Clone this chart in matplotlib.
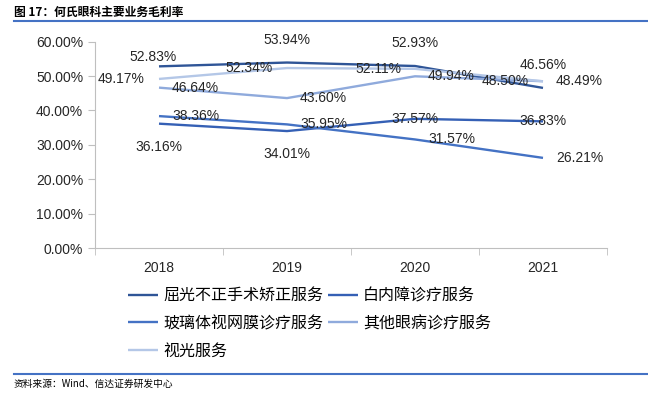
import matplotlib
matplotlib.use("Agg")
import matplotlib.pyplot as plt
from matplotlib.lines import Line2D

plt.rcParams['font.family'] = ['Liberation Sans', 'Noto Sans CJK SC', 'DejaVu Sans']

# 数据
years = ["2018", "2019", "2020", "2021"]
series_names = ["屈光不正手术矫正服务", "白内障诊疗服务", "玻璃体视网膜诊疗服务",
                "其他眼病诊疗服务", "视光服务"]
qg = [52.83, 53.94, 52.93, 46.56]
bnz = [36.16, 34.01, 37.57, 36.83]
blt = [38.36, 35.95, 31.57, 26.21]
qt = [46.64, 43.60, 49.94, 48.50]
sg = [49.17, 52.34, 52.11, 48.49]
yticks = [0, 10, 20, 30, 40, 50, 60]

values = [qg, bnz, blt, qt, sg]
colors = ["#2F5597", "#3560B5", "#4472C4", "#8FAADC", "#B4C7E7"]
# 数据标签位置: a=上, b=下, c=居中, l=左, r=右
label_pos = [
    ["a0", "a", "a", "a"],
    ["b", "b", "c", "c"],
    ["r", "r", "r", "r"],
    ["r", "r", "r", "l"],
    ["l", "l", "l", "r"],
]
offsets = {
    "a0": (-6, 9, "center"),
    "a": (0, 23, "center"),
    "b": (0, -23, "center"),
    "c": (0, 0, "center"),
    "l": (-14, 0, "right"),
    "r": (13, 0, "left"),
}

fig = plt.figure(figsize=(6.48, 3.95), dpi=100)
ax = fig.add_axes([95 / 648, 1 - 248 / 395, 512 / 648, 206.3 / 395])

x = list(range(len(years)))
handles = []
for name, vals, col, pos in zip(series_names, values, colors, label_pos):
    h, = ax.plot(x, vals, color=col, lw=1.7, label=name, solid_capstyle="butt")
    handles.append(h)
    for xi, v, p in zip(x, vals, pos):
        dx, dy, ha = offsets[p]
        ax.annotate(f"{v:.2f}%", (xi, v), xytext=(dx, dy), textcoords="offset pixels",
                    ha=ha, va="center", fontsize=10, color="#262626")

ax.set_xlim(-0.5, 3.5)
ax.set_ylim(0, 60)
ax.set_yticks(yticks)
ax.set_yticklabels([f"{t:.2f}%" for t in yticks])
ax.set_xticks(x)
ax.set_xticklabels(years)
ax.set_xticks([-0.5, 0.5, 1.5, 2.5, 3.5], minor=True)
ax.tick_params(axis="x", which="major", length=0, pad=9, labelsize=10, colors="#262626")
ax.tick_params(axis="x", which="minor", length=5, color="#BFBFBF", direction="out")
ax.tick_params(axis="y", length=5, color="#BFBFBF", labelsize=10, labelcolor="#262626")
for s in ["top", "right"]:
    ax.spines[s].set_visible(False)
for s in ["left", "bottom"]:
    ax.spines[s].set_color("#BFBFBF")

order = [0, 2, 4, 1, 3]
fig.legend([handles[i] for i in order], [series_names[i] for i in order],
           loc="upper left", bbox_to_anchor=(128 / 648, 1 - 288 / 395), ncol=2,
           frameon=False, fontsize=11.5, handlelength=1.9, handletextpad=0.3,
           columnspacing=0.3, labelspacing=0.78, borderpad=0, borderaxespad=0)

# 标题与来源
fig.text(14 / 648, 1 - 12 / 395, "图 17：何氏眼科主要业务毛利率", fontsize=8.5,
         fontweight="bold", va="center", ha="left", family=["Noto Sans CJK SC"])
fig.add_artist(Line2D([14 / 648, 1], [1 - 21 / 395] * 2, color="#4472C4", lw=1.5))
fig.add_artist(Line2D([14 / 648, 1], [1 - 374 / 395] * 2, color="#4472C4", lw=1.5))
fig.text(14 / 648, 1 - 384 / 395, "资料来源：Wind、信达证券研发中心", fontsize=7,
         style="italic", va="center", ha="left",
         family=["Noto Sans CJK SC", "Liberation Sans"])

fig.savefig("out.png", dpi=100)
